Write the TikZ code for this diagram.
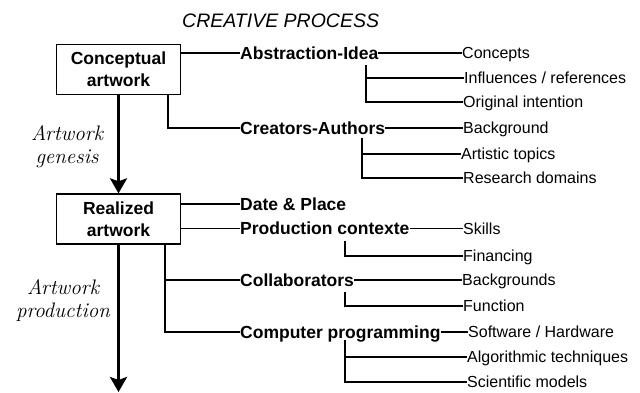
\documentclass[tikz,border=0pt]{standalone}
\usepackage{fontspec}
\newfontfamily\arial{Liberation Sans}
\usetikzlibrary{arrows.meta}
\begin{document}
\begin{tikzpicture}[x=1pt,y=-1pt,
  box/.style={draw, line width=1.3pt, minimum width=123.5pt, minimum height=50pt, inner sep=0pt, align=center, font=\arial\bfseries\fontsize{17.5}{22}\selectfont},
  cat/.style={anchor=west, inner sep=0pt, font=\arial\bfseries\fontsize{17.5}{20}\selectfont, text height=16.6pt, text depth=4.4pt},
  item/.style={anchor=west, inner sep=0pt, font=\arial\fontsize{16}{19}\selectfont, text height=15.2pt, text depth=4pt},
  phase/.style={align=center, inner sep=0pt, font=\itshape\fontsize{21}{23}\selectfont},
  link/.style={line width=1.3pt},
  flow/.style={line width=3.5pt, -{Stealth[length=15pt,width=17pt,inset=3pt]}}]
\useasboundingbox (0,0) rectangle (640,393);
\node[anchor=west, inner sep=0pt, font=\arial\itshape\fontsize{19.5}{22}\selectfont, text height=18pt, text depth=4.5pt] (title) at (182,21) {CREATIVE PROCESS};
\node[box] (cb) at (118.5,69.5) {Conceptual\\artwork};
\node[box] (rb) at (118.5,219) {Realized\\artwork};
\node[phase] (gen) at (67,147) {Artwork\\genesis};
\node[phase] (pro) at (63,301) {Artwork\\production};
\coordinate (end) at (118.5,392);
% categories
\node[cat] (abs) at (240,53) {Abstraction-Idea};
\node[cat] (cre) at (240,128) {Creators-Authors};
\node[cat] (date) at (240,204) {Date \& Place};
\node[cat] (prod) at (240,228.5) {Production contexte};
\node[cat] (col) at (240,280) {Collaborators};
\node[cat] (comp) at (240,332) {Computer programming};
% items
\node[item] (conc) at (462,53) {Concepts};
\node[item] (infl) at (464,78) {Influences / references};
\node[item] (orig) at (463,102) {Original intention};
\node[item] (back) at (463,128) {Background};
\node[item] (arts) at (461,154) {Artistic topics};
\node[item] (rese) at (463,178) {Research domains};
\node[item] (skil) at (463,228.5) {Skills};
\node[item] (fina) at (463,256) {Financing};
\node[item] (bkgs) at (462,280) {Backgrounds};
\node[item] (func) at (463,306) {Function};
\node[item] (soft) at (468,332) {Software / Hardware};
\node[item] (algo) at (467,357) {Algorithmic techniques};
\node[item] (scie) at (467,382) {Scientific models};
% main flow
\draw[flow] (cb) -- (rb);
\draw[flow] (rb) -- (end);
% box links
\draw[link] (cb.east |- abs.west) -- (abs.west);
\draw[link] ([xshift=-13pt]cb.south east) |- (cre.west);
\draw[link] (rb.east |- date.west) -- (date.west);
\draw[link] (rb.east |- prod.west) -- (prod.west);
\draw[link] ([xshift=-16pt]rb.south east) |- (comp.west);
\draw[link] ([xshift=-16pt]rb.south east |- col.west) -- (col.west);
% item links
\coordinate (va) at (366,65);
\coordinate (vc) at (362,138);
\coordinate (vp) at (345,241);
\coordinate (vl) at (345,292);
\coordinate (vm) at (345,340);
\draw[link] (abs.east) -- (conc.west);
\draw[link] (va) |- (orig.west);
\draw[link] (va |- infl.west) -- (infl.west);
\draw[link] (cre.east) -- (back.west);
\draw[link] (vc) |- (rese.west);
\draw[link] (vc |- arts.west) -- (arts.west);
\draw[link] (prod.east) -- (skil.west);
\draw[link] (vp) |- (fina.west);
\draw[link] (col.east) -- (bkgs.west);
\draw[link] (vl) |- (func.west);
\draw[link] (comp.east) -- (soft.west);
\draw[link] (vm) |- (scie.west);
\draw[link] (vm |- algo.west) -- (algo.west);
\end{tikzpicture}
\end{document}
